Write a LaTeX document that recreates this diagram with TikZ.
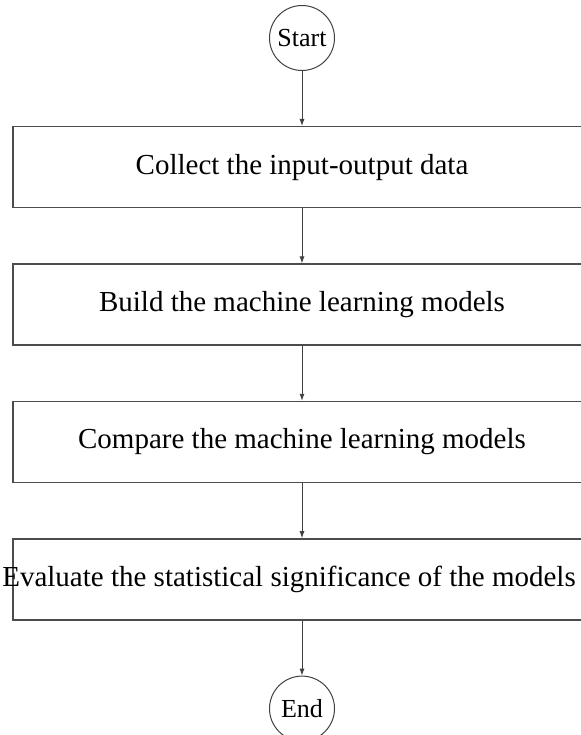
\documentclass[tikz,border=0pt]{standalone}
\usepackage{fontspec}
\setmainfont{Liberation Serif}
\usetikzlibrary{positioning,arrows.meta}

\tikzset{
    terminal/.style={draw=black!75, circle, line width=1pt, minimum size=65pt, inner sep=0pt, font=\fontsize{26}{30}\selectfont},
    stepbox/.style={draw=black!70, rectangle, line width=1.4pt, minimum width=578pt, minimum height=81pt, inner sep=0pt, font=\fontsize{29}{34}\selectfont},
    flow/.style={-{Latex[length=7pt,width=5pt]}, draw=black!75, line width=0.9pt}
}

\begin{document}
\begin{tikzpicture}[x=1pt, y=1pt, node distance=55pt]
    \useasboundingbox (0,0) rectangle (580,-735);

    \node[terminal] (start) at (302,-38) {Start};
    \node[stepbox, below=of start] (collect) {Collect the input-output data};
    \node[stepbox, below=of collect] (build) {Build the machine learning models};
    \node[stepbox, below=of build] (compare) {Compare the machine learning models};
    % text sits a little left of the box centre
    \node[stepbox, below=of compare] (evaluate) {\kern-26pt Evaluate the statistical significance of the models};
    \node[terminal, below=of evaluate] (end) {End};

    \draw[flow] (start) -- (collect);
    \draw[flow] (collect) -- (build);
    \draw[flow] (build) -- (compare);
    \draw[flow] (compare) -- (evaluate);
    \draw[flow] (evaluate) -- (end);
\end{tikzpicture}
\end{document}
